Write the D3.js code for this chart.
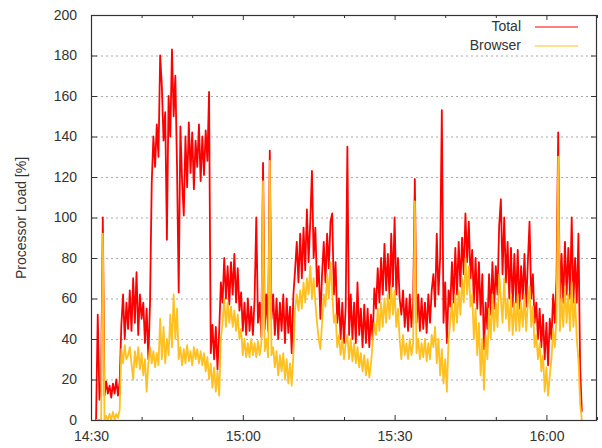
<!DOCTYPE html>
<html>
<head>
<meta charset="utf-8">
<style>
  body { margin: 0; background: #fff; }
  svg { display: block; font-family: "Liberation Sans", Arial, sans-serif; }
</style>
</head>
<body>
<svg id="chart" width="602" height="448"></svg>
<script src="https://d3js.org/d3.v7.min.js"></script>
<script>

// samples every 20 s starting 14:31:00, processor load in %
var totalLoad = [
  0, 52, 10, 18, 100, 12, 19, 13, 17, 11,
  18, 13, 20, 12, 19, 47, 62, 40, 58, 45,
  64, 44, 70, 48, 73, 42, 62, 50, 58, 38,
  55, 30, 58, 117, 140, 125, 146, 130, 180, 165,
  138, 152, 89, 160, 140, 183, 150, 170, 125, 63,
  145, 118, 101, 140, 115, 147, 122, 142, 114, 138,
  125, 146, 118, 140, 121, 143, 128, 162, 33, 47,
  30, 46, 25, 44, 68, 58, 80, 60, 76, 57,
  78, 62, 82, 58, 75, 54, 63, 44, 58, 42,
  60, 44, 56, 42, 60, 100, 48, 58, 41, 127,
  45, 62, 44, 133, 50, 62, 42, 60, 40, 58,
  44, 62, 38, 60, 43, 56, 33, 62, 74, 88,
  68, 92, 70, 95, 74, 104, 78, 98, 123, 80,
  95, 66, 76, 50, 72, 88, 68, 92, 75, 98,
  102, 62, 78, 48, 60, 40, 58, 38, 56, 135,
  42, 62, 40, 58, 38, 68, 42, 55, 36, 57,
  38, 55, 36, 52, 40, 65, 55, 75, 58, 80,
  62, 87, 64, 82, 60, 92, 66, 100, 62, 80,
  60, 52, 64, 46, 60, 44, 62, 46, 58, 119,
  48, 62, 44, 60, 45, 58, 43, 62, 48, 64,
  72, 56, 92, 62, 80, 153, 48, 68, 38, 64,
  56, 78, 58, 85, 62, 88, 66, 90, 72, 102,
  78, 98, 70, 84, 58, 80, 55, 78, 52, 72,
  35, 58, 45, 72, 52, 78, 55, 76, 62, 96,
  109, 72, 100, 68, 88, 60, 85, 56, 82, 58,
  84, 55, 76, 60, 82, 56, 78, 98, 60, 72,
  48, 58, 40, 55, 36, 52, 30, 48, 27, 50,
  40, 62, 48, 70, 142, 55, 82, 58, 88, 62,
  85, 60, 100, 58, 80, 58, 92, 26, 4
];

var browserLoad = [
  0, 0, 0, 0, 92, 0, 2, 0, 3, 0,
  4, 0, 3, 1, 5, 35, 28, 37, 30, 32,
  36, 28, 20, 34, 26, 36, 25, 33, 22, 30,
  14, 28, 36, 28, 34, 26, 33, 27, 50, 30,
  46, 28, 40, 32, 52, 36, 62, 40, 55, 30,
  36, 27, 35, 28, 37, 29, 34, 27, 36, 30,
  35, 28, 34, 27, 33, 24, 31, 20, 28, 16,
  26, 14, 24, 12, 40, 48, 60, 46, 58, 48,
  56, 46, 54, 44, 52, 40, 45, 32, 40, 31,
  38, 31, 40, 32, 38, 31, 39, 32, 38, 118,
  34, 40, 31, 128, 32, 36, 26, 34, 22, 32,
  24, 33, 20, 30, 18, 28, 17, 33, 55, 62,
  54, 64, 55, 68, 58, 70, 62, 76, 60, 70,
  58, 48, 40, 35, 48, 62, 56, 72, 60, 78,
  64, 48, 52, 36, 42, 32, 40, 30, 38, 42,
  30, 40, 29, 38, 28, 36, 26, 33, 24, 32,
  22, 30, 21, 28, 38, 48, 42, 55, 44, 58,
  46, 60, 48, 62, 50, 66, 52, 64, 46, 55,
  40, 30, 42, 32, 38, 30, 40, 32, 38, 108,
  33, 40, 30, 38, 31, 40, 29, 38, 30, 42,
  36, 46, 28, 40, 22, 35, 18, 30, 14, 40,
  48, 58, 44, 62, 48, 64, 52, 70, 58, 80,
  62, 76, 56, 62, 40, 55, 32, 48, 22, 40,
  15, 42, 30, 55, 40, 62, 44, 58, 46, 72,
  60, 48, 70, 50, 60, 44, 62, 42, 58, 44,
  62, 44, 58, 46, 62, 44, 58, 66, 46, 56,
  36, 42, 30, 38, 24, 32, 14, 26, 12, 22,
  30, 45, 36, 50, 130, 44, 60, 46, 66, 48,
  62, 44, 68, 46, 60, 40, 30, 8, 0
];

var yTicks = [0, 20, 40, 60, 80, 100, 120, 140, 160, 180, 200];
var xTickLabels = ["14:30", "15:00", "15:30", "16:00"];
var seriesNames = ["Total", "Browser"];
var seriesColors = ["#ff0000", "#ffc020"];

var startTime = new Date(2000, 0, 1, 14, 31, 0);
var stepMs = 20000;

var svg = d3.select("#chart");
var margin = {left: 91, right: 597, top: 15, bottom: 420};

var x = d3.scaleTime()
    .domain([new Date(2000, 0, 1, 14, 30), new Date(2000, 0, 1, 16, 10)])
    .range([margin.left, margin.right]);

var y = d3.scaleLinear()
    .domain([0, 200])
    .range([margin.bottom, margin.top]);

var fmt = d3.timeFormat("%H:%M");

// dotted grid
svg.append("g")
  .selectAll("line")
  .data(yTicks.slice(1, -1))
  .enter().append("line")
    .attr("x1", margin.left).attr("x2", margin.right)
    .attr("y1", function(d) { return y(d) + 0.5; })
    .attr("y2", function(d) { return y(d) + 0.5; })
    .attr("stroke", "#a8a8a8")
    .attr("stroke-dasharray", "2,3");

function series(values) {
  return values.map(function(v, i) {
    return {t: new Date(startTime.getTime() + i * stepMs), v: v};
  });
}

var line = d3.line()
    .x(function(d) { return x(d.t); })
    .y(function(d) { return y(d.v); });

var plot = svg.append("g");
plot.append("clipPath").attr("id", "clip")
  .append("rect")
    .attr("x", margin.left).attr("y", margin.top)
    .attr("width", margin.right - margin.left)
    .attr("height", margin.bottom - margin.top);

[totalLoad, browserLoad].forEach(function(vals, k) {
  plot.append("path")
      .datum(series(vals))
      .attr("clip-path", "url(#clip)")
      .attr("fill", "none")
      .attr("stroke", seriesColors[k])
      .attr("stroke-width", 1.8)
      .attr("stroke-linejoin", "round")
      .attr("d", line);
});

// axes, gnuplot style ticks pointing inward
var xTicks = d3.timeMinute.every(10).range(x.domain()[0], d3.timeMinute.offset(x.domain()[1], 1));

function isLabel(d) { return xTickLabels.indexOf(fmt(d)) >= 0; }

var xAxis = svg.append("g")
    .attr("transform", "translate(0," + margin.bottom + ")")
    .call(d3.axisBottom(x).tickValues(xTicks).tickSize(-5).tickPadding(11)
      .tickFormat(function(d) { return isLabel(d) ? fmt(d) : ""; }));
xAxis.selectAll(".tick line").attr("y2", function(d) { return isLabel(d) ? -5 : -3; });

var xTop = svg.append("g")
    .attr("transform", "translate(0," + margin.top + ")")
    .call(d3.axisTop(x).tickValues(xTicks).tickSize(-5).tickFormat(""));
xTop.selectAll(".tick line").attr("y2", function(d) { return isLabel(d) ? 5 : 3; });

svg.append("g")
    .attr("transform", "translate(" + margin.left + ",0)")
    .call(d3.axisLeft(y).tickValues(yTicks).tickSize(-6).tickPadding(14));

svg.append("g")
    .attr("transform", "translate(" + margin.right + ",0)")
    .call(d3.axisRight(y).tickValues(yTicks).tickSize(-6).tickFormat(""));

svg.selectAll(".domain").remove();
svg.selectAll(".tick line").attr("stroke", "#333");
svg.selectAll(".tick text").attr("fill", "#333").style("font-size", "14px")
    .style("font-family", "'Liberation Sans', Arial, sans-serif");

svg.append("rect")
    .attr("x", margin.left + 0.5).attr("y", margin.top + 0.5)
    .attr("width", margin.right - margin.left - 1)
    .attr("height", margin.bottom - margin.top)
    .attr("fill", "none")
    .attr("stroke", "#333")
    .attr("stroke-width", 1.2);

svg.append("text")
    .attr("transform", "translate(26,218) rotate(-90)")
    .attr("text-anchor", "middle")
    .attr("fill", "#333")
    .style("font-size", "14px")
    .text("Processor Load [%]");

// legend
var legend = svg.append("g")
  .selectAll("g")
  .data(seriesNames)
  .enter().append("g")
    .attr("transform", function(d, i) { return "translate(0," + (27 + i * 19) + ")"; });

legend.append("text")
    .attr("x", 521).attr("y", -1).attr("dy", "0.35em")
    .attr("text-anchor", "end")
    .attr("fill", "#333")
    .style("font-size", "14px")
    .text(function(d) { return d; });

legend.append("line")
    .attr("x1", 535).attr("x2", 578)
    .attr("y1", 0).attr("y2", 0)
    .attr("stroke", function(d, i) { return seriesColors[i]; })
    .attr("stroke-width", 1);

</script>
</body>
</html>
